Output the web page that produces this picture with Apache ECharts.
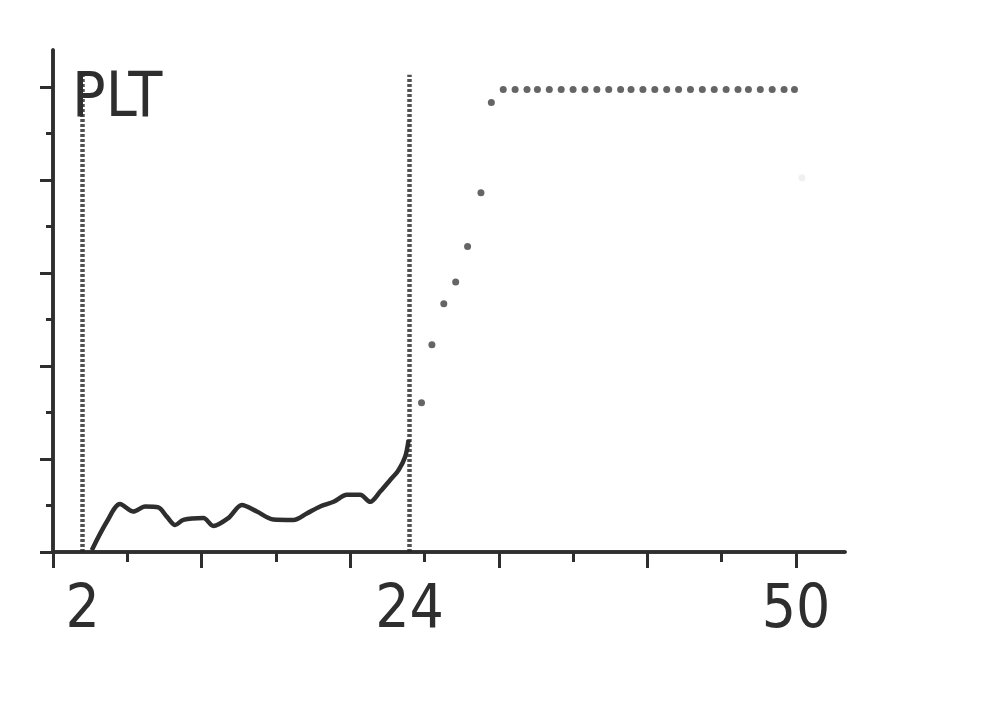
<!DOCTYPE html>
<html>
<head>
<meta charset="utf-8">
<script src="https://cdn.jsdelivr.net/npm/echarts@6/dist/echarts.min.js"></script>
<style>
html,body{margin:0;padding:0;background:#fff;}
#chart{width:986px;height:710px;}
</style>
</head>
<body>
<div id="chart"></div>
<script>
// Histogram curve (PLT distribution), x in axis units, y in axis units
const curveX = [2.61, 3.62, 4.51, 5.41, 6.20, 7.09, 7.66, 8.22, 8.77, 10.12, 10.79, 11.80, 12.71, 13.72, 14.83, 16.18, 17.08, 17.98, 18.88, 19.78, 20.67, 21.35, 22.02, 22.69, 23.25, 23.70, 23.93];
const curveY = [0.04, 0.65, 1.03, 0.87, 0.98, 0.96, 0.76, 0.58, 0.69, 0.73, 0.56, 0.73, 1.01, 0.87, 0.70, 0.69, 0.83, 0.98, 1.08, 1.23, 1.23, 1.08, 1.30, 1.55, 1.76, 2.05, 2.41];

// Dotted (cumulative) points to the right of the upper discriminator
const dotX = [24.8, 25.5, 26.3, 27.1, 27.9, 28.8, 29.5,
  30.3, 31.1, 31.9, 32.6, 33.4, 34.2, 35.0, 35.8, 36.6, 37.4, 38.2, 38.9, 39.7,
  40.5, 41.3, 42.1, 42.9, 43.7, 44.5, 45.3, 46.1, 46.8, 47.6, 48.4, 49.2, 49.9];
const dotY = [3.21, 4.46, 5.34, 5.81, 6.57, 7.73, 9.67,
  9.95, 9.95, 9.95, 9.95, 9.95, 9.95, 9.95, 9.95, 9.95, 9.95, 9.95, 9.95, 9.95,
  9.95, 9.95, 9.95, 9.95, 9.95, 9.95, 9.95, 9.95, 9.95, 9.95, 9.95, 9.95, 9.95];
const faintDot = [[50.4, 8.05]];

// Discriminator lines
const markerXs = [2, 24];
const markerTop = 10.27;

// Axis ticks and labels
const xLabels = [2, 24, 50];
const xMajorTicks = [0, 10, 20, 30, 40, 50];
const xMinorTicks = [5, 15, 25, 35, 45];
const yMajorTicks = [0, 2, 4, 6, 8, 10];
const yMinorTicks = [1, 3, 5, 7, 9];
const xMax = 53.3;
const yMax = 10.8;
const titleText = 'PLT';

const ink = '#2e2e2e';
const fontFam = '"DejaVu Sans Condensed", "DejaVu Sans", sans-serif';

const chart = echarts.init(document.getElementById('chart'), null, {renderer: 'canvas'});

const curveData = curveX.map((x, i) => [x, curveY[i]]);
const dotData = dotX.map((x, i) => [x, dotY[i]]);

const baseX = {
  type: 'value', min: 0, max: xMax, position: 'bottom',
  splitLine: {show: false},
  axisLine: {show: true, onZero: false, lineStyle: {color: ink, width: 3.5}}
};
const baseY = {
  type: 'value', min: 0, max: yMax, position: 'left',
  splitLine: {show: false},
  axisLine: {show: true, onZero: false, lineStyle: {color: ink, width: 3.5}}
};

chart.setOption({
  animation: false,
  backgroundColor: '#ffffff',
  title: {
    text: titleText, left: 72, top: 69, padding: 0,
    textStyle: {fontFamily: fontFam, fontSize: 62, fontWeight: 'normal', color: ink}
  },
  grid: {left: 53, right: 141, top: 50, bottom: 158, containLabel: false},
  xAxis: [
    Object.assign({}, baseX, {
      axisTick: {show: true, customValues: xMajorTicks, length: 16, lineStyle: {color: ink, width: 3}},
      axisLabel: {show: true, customValues: xLabels, margin: 29, fontFamily: fontFam, fontSize: 60, color: ink}
    }),
    Object.assign({}, baseX, {
      axisTick: {show: true, customValues: xMinorTicks, length: 10, lineStyle: {color: ink, width: 3}},
      axisLabel: {show: false}
    })
  ],
  yAxis: [
    Object.assign({}, baseY, {
      axisTick: {show: true, customValues: yMajorTicks, length: 13, lineStyle: {color: ink, width: 3}},
      axisLabel: {show: false}
    }),
    Object.assign({}, baseY, {
      axisTick: {show: true, customValues: yMinorTicks, length: 7, lineStyle: {color: ink, width: 3}},
      axisLabel: {show: false}
    })
  ],
  series: [
    {
      type: 'line', xAxisIndex: 0, yAxisIndex: 0,
      data: curveData, smooth: 0.3, showSymbol: false,
      lineStyle: {color: ink, width: 4.5},
      markLine: {
        silent: true, symbol: ['none', 'none'], label: {show: false},
        emphasis: {disabled: true},
        lineStyle: {color: '#262626', width: 4.5, type: [3, 2], opacity: 0.8},
        data: markerXs.map(x => [{coord: [x, 0]}, {coord: [x, markerTop]}])
      }
    },
    {
      type: 'scatter', xAxisIndex: 0, yAxisIndex: 0,
      data: dotData, symbolSize: 7,
      itemStyle: {color: '#4a4a4a', opacity: 0.85}
    },
    {
      type: 'scatter', xAxisIndex: 0, yAxisIndex: 0,
      data: faintDot, symbolSize: 7,
      itemStyle: {color: '#ececec'}
    }
  ]
});
</script>
</body>
</html>
